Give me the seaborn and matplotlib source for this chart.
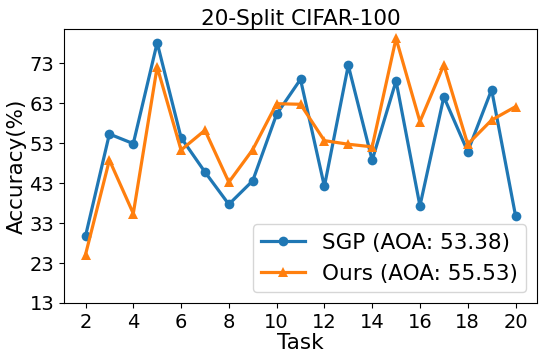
import matplotlib
matplotlib.use("Agg")
import matplotlib.pyplot as plt
import seaborn as sns
import pandas as pd

tasks = list(range(2, 21))
sgp = [29.75, 55.3, 52.9, 78.15, 54.4, 45.8, 37.7, 43.6, 60.25, 69.0,
       42.2, 72.5, 48.75, 68.6, 37.3, 64.6, 50.9, 66.4, 34.9]
ours = [25.1, 48.8, 35.4, 72.1, 51.3, 56.25, 43.25, 51.4, 62.9, 62.75,
        53.65, 52.75, 52.1, 79.25, 58.4, 72.6, 52.75, 58.8, 62.15]
labels = ["SGP (AOA: 53.38)", "Ours (AOA: 55.53)"]
yticks = [13, 23, 33, 43, 53, 63, 73]
xticks = list(range(2, 21, 2))

df = pd.DataFrame({
    "Task": tasks * 2,
    "Accuracy": sgp + ours,
    "Method": [labels[0]] * len(tasks) + [labels[1]] * len(tasks),
})

fig = plt.figure(figsize=(5.45, 3.63), dpi=100)
ax = fig.add_subplot(111)
fig.subplots_adjust(left=64/545, right=537/545, top=1-29/363, bottom=1-303/363)

sns.lineplot(data=df, x="Task", y="Accuracy", hue="Method", style="Method",
             markers=["o", "^"], dashes=False, palette=["#1f77b4", "#ff7f0e"],
             linewidth=2.3, markersize=7, markeredgewidth=0, ax=ax)

ax.set_ylim(13, 81.6)
ax.set_xlim(1.1, 20.9)
ax.set_yticks(yticks)
ax.set_xticks(xticks)
ax.tick_params(labelsize=14)
ax.set_xlabel("Task", fontsize=15.5, labelpad=1)
ax.set_ylabel("Accuracy(%)", fontsize=15.5, labelpad=2)
ax.set_title("20-Split CIFAR-100", fontsize=15.6, pad=3)
ax.legend(loc="lower right", fontsize=15.5, title=None)

fig.savefig("out.png", dpi=100)
